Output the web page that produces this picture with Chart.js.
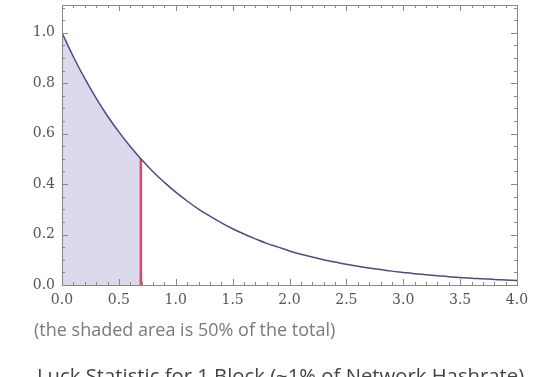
<!DOCTYPE html>
<html>
<head>
<meta charset="utf-8">
<script src="https://cdn.jsdelivr.net/npm/chart.js@4.4.0/dist/chart.umd.min.js"></script>
<style>
  html, body { margin: 0; padding: 0; background: #fff; }
  #wrap { position: relative; width: 553px; height: 377px; overflow: hidden; }
  .cap1 { position: absolute; left: 34px; top: 320px; font: 18px/18px "Open Sans", sans-serif; color: #7a7a7a; white-space: nowrap; }
  .cap2 { position: absolute; left: 37px; top: 365px; font: 20.3px/20px "Open Sans", sans-serif; color: #444; white-space: nowrap; }
</style>
</head>
<body>
<div id="wrap">
  <canvas id="luckchart" width="553" height="377"></canvas>
  <div class="cap1">(the shaded area is 50% of the total)</div>
  <div class="cap2">Luck Statistic for 1 Block (~1% of Network Hashrate)</div>
</div>
<script>
// curve
const xs = [0, 0.1, 0.2, 0.3, 0.4, 0.5, 0.6, 0.7, 0.8, 0.9, 1.0, 1.1, 1.2, 1.3, 1.4, 1.5, 1.6, 1.7, 1.8, 1.9, 2.0,
  2.1, 2.2, 2.3, 2.4, 2.5, 2.6, 2.7, 2.8, 2.9, 3.0, 3.1, 3.2, 3.3, 3.4, 3.5, 3.6, 3.7, 3.8, 3.9, 4.0];
const ys = [1.0, 0.905, 0.819, 0.741, 0.670, 0.607, 0.549, 0.497, 0.449, 0.407, 0.368, 0.333, 0.301, 0.273, 0.247,
  0.223, 0.202, 0.183, 0.165, 0.150, 0.135, 0.122, 0.111, 0.100, 0.091, 0.082, 0.074, 0.067, 0.061, 0.055, 0.050,
  0.045, 0.041, 0.037, 0.033, 0.030, 0.027, 0.025, 0.022, 0.020, 0.018];

// shaded part, up to the median
const shadeX = [0, 0.1, 0.2, 0.3, 0.4, 0.5, 0.6, 0.693];
const shadeY = [1.0, 0.905, 0.819, 0.741, 0.670, 0.607, 0.549, 0.5];
const medianX = 0.693;
const medianY = 0.5;

// ticks
const xTicks = [0, 0.5, 1.0, 1.5, 2.0, 2.5, 3.0, 3.5, 4.0];
const yTicks = [0, 0.2, 0.4, 0.6, 0.8, 1.0];
const xMinor = [0.1, 0.2, 0.3, 0.4, 0.6, 0.7, 0.8, 0.9, 1.1, 1.2, 1.3, 1.4, 1.6, 1.7, 1.8, 1.9, 2.1, 2.2, 2.3, 2.4,
  2.6, 2.7, 2.8, 2.9, 3.1, 3.2, 3.3, 3.4, 3.6, 3.7, 3.8, 3.9];
const yMinor = [0.05, 0.1, 0.15, 0.25, 0.3, 0.35, 0.45, 0.5, 0.55, 0.65, 0.7, 0.75, 0.85, 0.9, 0.95, 1.05, 1.1];

const toPts = (a, b) => a.map((v, i) => ({ x: v, y: b[i] }));

// frame with inward ticks on all four sides
const framePlugin = {
  id: 'frame',
  afterDraw(chart) {
    const { ctx, chartArea: a, scales } = chart;
    ctx.save();
    ctx.strokeStyle = '#888';
    ctx.lineWidth = 1;
    ctx.strokeRect(Math.round(a.left) + 0.5, Math.round(a.top) + 0.5, Math.round(a.right - a.left), Math.round(a.bottom - a.top));
    ctx.beginPath();
    const xt = (v, len) => {
      const p = Math.round(scales.x.getPixelForValue(v)) + 0.5;
      ctx.moveTo(p, a.bottom); ctx.lineTo(p, a.bottom - len);
      ctx.moveTo(p, a.top); ctx.lineTo(p, a.top + len);
    };
    const yt = (v, len) => {
      const p = Math.round(scales.y.getPixelForValue(v)) + 0.5;
      ctx.moveTo(a.left, p); ctx.lineTo(a.left + len, p);
      ctx.moveTo(a.right, p); ctx.lineTo(a.right - len, p);
    };
    xTicks.forEach(v => xt(v, 6));
    xMinor.forEach(v => xt(v, 3));
    yTicks.forEach(v => yt(v, 6));
    yMinor.forEach(v => yt(v, 3));
    ctx.stroke();
    ctx.restore();
  }
};

const tickFont = { family: '"DejaVu Serif", serif', size: 14 };

new Chart(document.getElementById('luckchart'), {
  type: 'line',
  data: {
    datasets: [{
      data: toPts(xs, ys),
      borderColor: '#4b4b8c',
      borderWidth: 1.5,
      pointRadius: 0,
      tension: 0.4,
      fill: false,
      order: 1
    }, {
      data: toPts(shadeX, shadeY),
      borderWidth: 0,
      backgroundColor: 'rgba(218, 218, 236, 1)',
      pointRadius: 0,
      tension: 0.4,
      fill: 'origin',
      order: 3
    }, {
      data: [{ x: medianX, y: 0 }, { x: medianX, y: medianY }],
      borderColor: '#e2455e',
      borderWidth: 2.5,
      pointRadius: 0,
      fill: false,
      order: 2
    }]
  },
  options: {
    responsive: false,
    animation: false,
    layout: { padding: { left: 0, top: 5, right: 36, bottom: 62 } },
    plugins: { legend: { display: false }, tooltip: { enabled: false } },
    scales: {
      x: {
        type: 'linear',
        min: 0,
        max: 4,
        grid: { display: false, drawTicks: false },
        border: { display: false },
        afterBuildTicks: s => { s.ticks = xTicks.map(v => ({ value: v })); },
        afterFit: s => { s.height = 30; s.paddingLeft = 0; s.paddingRight = 0; },
        ticks: { color: '#555', font: tickFont, padding: 7, maxRotation: 0, callback: v => v.toFixed(1) }
      },
      y: {
        min: 0,
        max: 1.11,
        grid: { display: false, drawTicks: false },
        border: { display: false },
        afterBuildTicks: s => { s.ticks = yTicks.map(v => ({ value: v })); },
        afterFit: s => { s.width = 62; s.paddingTop = 0; s.paddingBottom = 0; },
        ticks: { color: '#555', font: tickFont, padding: 7, callback: v => v.toFixed(1) }
      }
    }
  },
  plugins: [framePlugin]
});
</script>
</body>
</html>
